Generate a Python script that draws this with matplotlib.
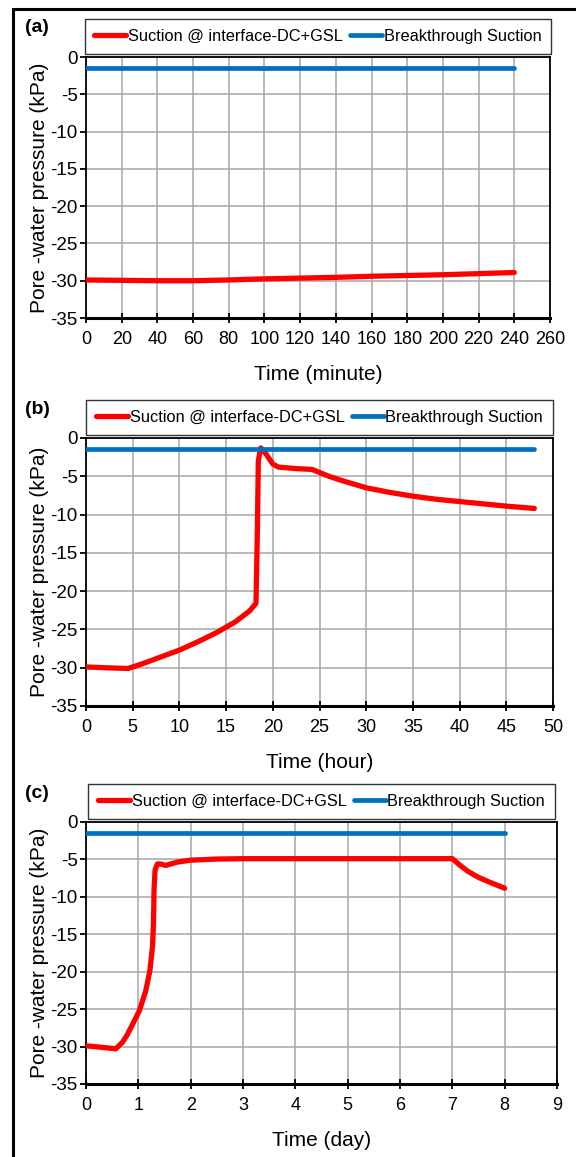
import matplotlib
matplotlib.use("Agg")
import matplotlib.pyplot as plt
from matplotlib.patches import Rectangle

plt.rcParams["font.family"] = ["Liberation Sans", "DejaVu Sans"]
plt.rcParams["axes.unicode_minus"] = False

# ---- data ----
# (a) time in minutes
t_a = [0, 20, 40, 60, 80, 100, 120, 140, 160, 180, 200, 220, 240]
suction_a = [-29.9, -29.95, -30.0, -30.0, -29.9, -29.75, -29.65, -29.55, -29.4, -29.3, -29.2, -29.05, -28.9]
t_a_break = [0, 240]

# (b) time in hours
t_b = [0, 2, 4.5, 6, 8, 10, 12, 14, 16, 17.5, 18.2, 18.35, 18.45, 18.7, 19.0, 19.5,
       20.0, 20.6, 22.5, 24.2, 25.0, 26.0, 27.5, 30.0, 32.5, 35.0, 37.5, 40.0, 42.5, 45.0, 48.0]
suction_b = [-29.9, -30.0, -30.1, -29.5, -28.6, -27.7, -26.6, -25.4, -24.0, -22.6, -21.6, -12.0, -3.0,
             -1.3, -1.6, -2.5, -3.4, -3.8, -4.0, -4.1, -4.5, -5.0, -5.6, -6.5, -7.1, -7.6, -8.0,
             -8.3, -8.6, -8.9, -9.2]
t_b_break = [0, 48]

# (c) time in days
t_c = [0, 0.3, 0.57, 0.7, 0.79, 0.9, 1.02, 1.14, 1.22, 1.27, 1.29, 1.30, 1.32, 1.365, 1.42,
       1.52, 1.75, 2.0, 2.5, 3, 4, 5, 6, 7, 7.15, 7.3, 7.5, 7.7, 8.0]
suction_c = [-29.9, -30.1, -30.3, -29.4, -28.4, -26.9, -25.2, -22.6, -19.9, -16.7, -13.6, -9.1,
             -6.4, -5.6, -5.6, -5.8, -5.35, -5.1, -4.95, -4.9, -4.9, -4.9, -4.9, -4.9, -5.8,
             -6.6, -7.4, -8.0, -8.85]
t_c_break = [0, 8]

breakthrough = -1.5

x_limits = [(0, 260, 20), (0, 50, 5), (0, 9, 1)]
x_titles = ["Time (minute)", "Time (hour)", "Time (day)"]
panel_tags = ["(a)", "(b)", "(c)"]
series_label = "Suction @ interface-DC+GSL"
break_label = "Breakthrough Suction"

W, H = 576, 1157
# axes boxes in pixels: left, top, right, bottom
boxes = [(86, 57, 550, 318), (86, 438, 553, 706), (86, 822, 557, 1084)]


def px_rect(l, t, r, b):
    return [l / W, 1 - b / H, (r - l) / W, (b - t) / H]


fig = plt.figure(figsize=(W / 100, H / 100), dpi=100)

# outer frame that runs off the right and bottom edges
fig.patches.append(Rectangle((13 / W, -0.1), 1.2, (H - 9) / H + 0.1, transform=fig.transFigure,
                             fill=False, edgecolor="black", linewidth=2.2, clip_on=False))

panels = [
    (t_a, suction_a, t_a_break),
    (t_b, suction_b, t_b_break),
    (t_c, suction_c, t_c_break),
]

for i, (t, s, tb) in enumerate(panels):
    l, top, r, b = boxes[i]
    ax = fig.add_axes(px_rect(l, top, r, b))
    ax.plot(t, s, color="#ff0000", linewidth=3.8, solid_joinstyle="round",
            solid_capstyle="round", label=series_label, zorder=3)
    ax.plot(tb, [breakthrough] * len(tb), color="#0070c0", linewidth=3.4,
            solid_capstyle="round", label=break_label, zorder=3)

    x0, x1, dx = x_limits[i]
    ax.set_xlim(x0, x1)
    ax.set_ylim(-35, 0)
    ax.set_xticks(range(x0, x1 + 1, dx))
    ax.set_yticks(range(-35, 1, 5))
    ax.grid(True, color="#a6a6a6", linewidth=1.1)
    ax.set_axisbelow(True)

    for side in ["top", "right", "left"]:
        ax.spines[side].set_linewidth(1.3)
    ax.spines["bottom"].set_linewidth(2.2)

    ax.tick_params(axis="x", direction="inout", length=7, width=1.3, labelsize=13, pad=6)
    ax.tick_params(axis="y", direction="out", length=4, width=1.3, labelsize=13.5, pad=2)
    ax.set_xlabel(x_titles[i], fontsize=15, labelpad=12)
    ax.set_ylabel("Pore -water pressure (kPa)", fontsize=15, labelpad=1)

    leg = ax.legend(loc="lower center", bbox_to_anchor=(0.5, 1.012), ncol=2, borderaxespad=0,
                    frameon=True, fancybox=False, fontsize=11.8, handlelength=1.95,
                    handletextpad=0.1, borderpad=0.6, columnspacing=0.45)
    leg.get_frame().set_edgecolor("black")
    leg.get_frame().set_linewidth(1.0)

    fig.text(37 / W, 1 - (top - 29) / H, panel_tags[i], fontsize=14, fontweight="bold",
             ha="center", va="center")

fig.savefig("out.png", dpi=100)
